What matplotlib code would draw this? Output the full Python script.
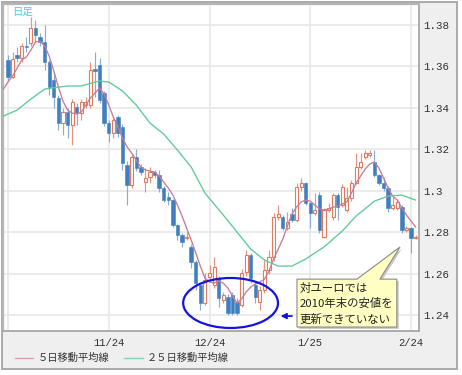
import matplotlib
matplotlib.use('Agg')
import matplotlib.pyplot as plt
import numpy as np
from matplotlib.patches import Rectangle, Polygon, Ellipse
from matplotlib.lines import Line2D

# ---------------- data (EUR/USD daily candles) ----------------
opens = [1.3629, 1.3547, 1.3653, 1.3639, 1.3696, 1.3711, 1.3783, 1.3740, 1.3716, 1.3619,
         1.3533, 1.3446, 1.3325, 1.3378, 1.3316, 1.3402, 1.3373, 1.3412, 1.3412, 1.3586,
         1.3605, 1.3470, 1.3325, 1.3277, 1.3354, 1.3306, 1.3123, 1.3027, 1.3161, 1.3113,
         1.3041, 1.3065, 1.3089, 1.3075, 1.3012, 1.2969, 1.2954, 1.2834, 1.2786, 1.2771,
         1.2728, 1.2655, 1.2545, 1.2458, 1.2583, 1.2545, 1.2578, 1.2472, 1.2487, 1.2496,
         1.2463, 1.2448, 1.2607, 1.2689, 1.2545, 1.2463, 1.2521, 1.2617, 1.2680, 1.2872,
         1.2872, 1.2819, 1.2887, 1.2858, 1.3017, 1.3036, 1.2940, 1.2892, 1.2978, 1.2776,
         1.2906, 1.2872, 1.2978, 1.2930, 1.2906, 1.2964, 1.3036, 1.3113, 1.3161, 1.3171,
         1.3137, 1.3075, 1.3036, 1.3012, 1.2916, 1.2916, 1.2920, 1.2810, 1.2819, 1.2771]
closes = [1.3547, 1.3634, 1.3639, 1.3696, 1.3692, 1.3783, 1.3749, 1.3716, 1.3619, 1.3499,
          1.3451, 1.3325, 1.3378, 1.3316, 1.3427, 1.3373, 1.3427, 1.3427, 1.3581, 1.3576,
          1.3436, 1.3325, 1.3277, 1.3340, 1.3277, 1.3133, 1.3027, 1.3161, 1.3108, 1.3089,
          1.3060, 1.3089, 1.3075, 1.3012, 1.2954, 1.2954, 1.2834, 1.2786, 1.2752, 1.2776,
          1.2655, 1.2554, 1.2458, 1.2569, 1.2602, 1.2631, 1.2482, 1.2496, 1.2410, 1.2410,
          1.2410, 1.2602, 1.2689, 1.2578, 1.2487, 1.2521, 1.2617, 1.2680, 1.2872, 1.2887,
          1.2819, 1.2848, 1.2858, 1.3017, 1.3036, 1.2940, 1.2892, 1.2906, 1.2810, 1.2906,
          1.2916, 1.2978, 1.2920, 1.3017, 1.2964, 1.3036, 1.3113, 1.3137, 1.3181, 1.3181,
          1.3075, 1.3036, 1.3012, 1.2916, 1.2930, 1.2945, 1.2810, 1.2819, 1.2771, 1.2776]
highs = [1.3653, 1.3667, 1.3692, 1.3711, 1.3740, 1.3836, 1.3822, 1.3760, 1.3798, 1.3630,
         1.3571, 1.3460, 1.3400, 1.3400, 1.3440, 1.3420, 1.3440, 1.3450, 1.3619, 1.3667,
         1.3639, 1.3480, 1.3340, 1.3350, 1.3365, 1.3320, 1.3140, 1.3175, 1.3200, 1.3130,
         1.3108, 1.3113, 1.3100, 1.3099, 1.3020, 1.2993, 1.2960, 1.2840, 1.2795, 1.2800,
         1.2740, 1.2665, 1.2560, 1.2602, 1.2641, 1.2680, 1.2590, 1.2510, 1.2500, 1.2510,
         1.2480, 1.2620, 1.2713, 1.2700, 1.2560, 1.2540, 1.2665, 1.2713, 1.2890, 1.2930,
         1.2880, 1.2896, 1.2916, 1.3036, 1.3060, 1.3040, 1.2945, 1.2988, 1.2993, 1.2916,
         1.2940, 1.2990, 1.2990, 1.3030, 1.3017, 1.3050, 1.3181, 1.3181, 1.3195, 1.3195,
         1.3195, 1.3080, 1.3065, 1.3020, 1.2969, 1.2955, 1.2930, 1.2830, 1.2825, 1.2785]
lows = [1.3533, 1.3542, 1.3619, 1.3619, 1.3667, 1.3696, 1.3716, 1.3696, 1.3581, 1.3460,
        1.3398, 1.3292, 1.3267, 1.3253, 1.3219, 1.3316, 1.3340, 1.3400, 1.3398, 1.3451,
        1.3420, 1.3310, 1.3234, 1.3253, 1.3260, 1.3099, 1.2930, 1.3012, 1.3095, 1.3075,
        1.2993, 1.3036, 1.3060, 1.2993, 1.2945, 1.2930, 1.2824, 1.2761, 1.2728, 1.2761,
        1.2627, 1.2521, 1.2424, 1.2448, 1.2570, 1.2530, 1.2439, 1.2460, 1.2400, 1.2400,
        1.2400, 1.2440, 1.2590, 1.2554, 1.2458, 1.2424, 1.2506, 1.2600, 1.2660, 1.2860,
        1.2810, 1.2810, 1.2848, 1.2848, 1.3000, 1.2930, 1.2819, 1.2880, 1.2795, 1.2771,
        1.2896, 1.2860, 1.2858, 1.2920, 1.2896, 1.2950, 1.3030, 1.3105, 1.3150, 1.3160,
        1.3065, 1.3025, 1.3000, 1.2896, 1.2906, 1.2906, 1.2795, 1.2800, 1.2699, 1.2765]

# 5-day moving average, from the day before the first candle (index -1) to the last
ma5 = [1.3489, 1.3523, 1.3552, 1.3590, 1.3629, 1.3643, 1.3677, 1.3716, 1.3720, 1.3696, 1.3648,
       1.3576, 1.3499, 1.3431, 1.3388, 1.3373, 1.3369, 1.3378, 1.3412, 1.3446, 1.3470,
       1.3494, 1.3465, 1.3412, 1.3354, 1.3306, 1.3253, 1.3210, 1.3181, 1.3147, 1.3113,
       1.3099, 1.3094, 1.3089, 1.3070, 1.3041, 1.3012, 1.2978, 1.2930, 1.2877, 1.2819,
       1.2761, 1.2699, 1.2636, 1.2578, 1.2559, 1.2554, 1.2564, 1.2554, 1.2530, 1.2492,
       1.2458, 1.2477, 1.2511, 1.2535, 1.2549, 1.2559, 1.2573, 1.2612, 1.2670, 1.2718,
       1.2766, 1.2829, 1.2887, 1.2920, 1.2945, 1.2954, 1.2949, 1.2930, 1.2911, 1.2906,
       1.2911, 1.2920, 1.2925, 1.2935, 1.2945, 1.2988, 1.3036, 1.3070, 1.3104, 1.3128,
       1.3137, 1.3108, 1.3060, 1.3012, 1.2973, 1.2954, 1.2916, 1.2882, 1.2853, 1.2824]
ma5_start = -1

# 25-day moving average, read at these candle indices
ma25_idx = [-1, 2, 5, 8, 13, 16, 20, 22, 25, 28, 31, 34, 37, 40, 43, 47, 50, 53, 56,
            59, 62, 65, 69, 73, 76, 80, 83, 86, 89]
ma25 = [1.3359, 1.3388, 1.3441, 1.3489, 1.3504, 1.3504, 1.3528, 1.3523, 1.3480, 1.3412,
        1.3325, 1.3272, 1.3195, 1.3113, 1.2988, 1.2882, 1.2800, 1.2718, 1.2665, 1.2636,
        1.2636, 1.2670, 1.2728, 1.2805, 1.2877, 1.2949, 1.2973, 1.2978, 1.2954]

x_tick_idx = [0, 22, 44, 66, 88]
x_tick_labels = ['', '11/24', '12/24', '1/25', '2/24']
y_ticks = [1.24, 1.26, 1.28, 1.30, 1.32, 1.34, 1.36, 1.38]
y_tick_labels = ['1.24', '1.26', '1.28', '1.3', '1.32', '1.34', '1.36', '1.38']

legend_labels = ['５日移動平均線', '２５日移動平均線']
title_text = '日足'
note_lines = ['対ユーロでは', '2010年末の安値を', '更新できていない']

# ---------------- figure ----------------
W, H, DPI = 462, 375, 100
CJK = ['Noto Sans CJK JP', 'DejaVu Sans']
fig = plt.figure(figsize=(W / DPI, H / DPI), dpi=DPI)
fig.patch.set_facecolor('white')


def fx(px):
    return px / W


def fy(py):
    return 1 - py / H


# outer gray panel (behind the axes)
fig.patches.append(Rectangle((fx(2), fy(369)), fx(457) - fx(2), fy(2) - fy(369),
                             transform=fig.transFigure, facecolor='#efefef',
                             edgecolor='#a9a9a9', lw=1.4, zorder=-5))

ax = fig.add_axes([fx(3), fy(331), fx(419) - fx(3), fy(4) - fy(331)])
ax.set_zorder(2)
ax.set_facecolor('white')
ax.set_xlim(-1.09, 89.74)
ax.set_ylim(1.2323, 1.3899)

for side, col, lw in [('left', '#b5b5b5', 1.6), ('top', '#b5b5b5', 1.6),
                      ('right', '#a0a0a0', 1.2), ('bottom', '#a0a0a0', 1.2)]:
    ax.spines[side].set_color(col)
    ax.spines[side].set_linewidth(lw)

ax.yaxis.tick_right()
ax.set_yticks(y_ticks)
ax.set_yticklabels(y_tick_labels, family='Liberation Mono', fontsize=7.8, color='#333333')
ax.set_xticks(x_tick_idx)
ax.set_xticklabels(x_tick_labels, family='Liberation Mono', fontsize=7.6, color='#333333')
ax.tick_params(axis='y', length=0, pad=3)
ax.tick_params(axis='x', length=0, pad=5)
ax.grid(True, color='#e8e8e8', lw=1.2)
ax.set_axisbelow(True)

# candles
o = np.array(opens)
c = np.array(closes)
h = np.array(highs)
l = np.array(lows)
idx = np.arange(len(o))
up = c >= o
wick_cols = np.where(up, '#e8927c', '#86aed6')
ax.vlines(idx, l, h, colors=wick_cols, lw=0.85, zorder=2)
body_bot = np.minimum(o, c)
body_h = np.maximum(np.abs(c - o), 0.0003)
ax.bar(idx[up], body_h[up], bottom=body_bot[up], width=0.68, facecolor='white',
       edgecolor='#e07b5f', lw=0.8, zorder=3)
ax.bar(idx[~up], body_h[~up], bottom=body_bot[~up], width=0.74, facecolor='#3f7fbf',
       edgecolor='#3f7fbf', lw=0.4, zorder=3)

# moving averages
ax.plot(np.arange(ma5_start, ma5_start + len(ma5)), ma5, color='#c97b95', lw=0.95, zorder=4)
ax.plot(ma25_idx, ma25, color='#5ccb98', lw=0.95, zorder=4)

# ellipse highlighting the lows
ax.add_patch(Ellipse((48.6, 1.2458), 20.7, 0.0241, fill=False, edgecolor='#1414e0',
                     lw=1.6, zorder=6))
ax.annotate('', xy=(58.9, 1.2395), xytext=(62.6, 1.2395),
            arrowprops=dict(arrowstyle='-|>', color='#1414e0', lw=1.3, mutation_scale=8),
            zorder=6)

# callout
callout = [(63.1, 1.2573), (76.2, 1.2573), (85.6, 1.2728), (81.2, 1.2573),
           (84.9, 1.2573), (84.9, 1.2342), (63.1, 1.2342)]
shadow = [(x + 0.4, y - 0.0009) for x, y in callout]
ax.add_patch(Polygon(shadow, closed=True, facecolor='#c8c8c8', edgecolor='none', zorder=6))
ax.add_patch(Polygon(callout, closed=True, facecolor='#ffffc4', edgecolor='#8a8a8a',
                     lw=0.8, zorder=7))
for yv, t in zip([1.2530, 1.2456, 1.2380], note_lines):
    ax.text(63.75, yv, t, family=CJK, fontsize=8.2, color='#222222', va='center',
            ha='left', zorder=8)

# top-left label
fig.text(fx(12), fy(12), title_text, family=CJK, fontsize=7.5, color='#5bbfe8',
         va='center', zorder=10)

# legend
ly = fy(358)
fig.add_artist(Line2D([fx(15), fx(33)], [ly, ly], transform=fig.transFigure,
                      color='#d8a2b0', lw=1.0))
fig.text(fx(38), ly, legend_labels[0], family=CJK, fontsize=7.4, color='#333333', va='center')
fig.add_artist(Line2D([fx(124), fx(143)], [ly, ly], transform=fig.transFigure,
                      color='#7fd6b0', lw=1.0))
fig.text(fx(147), ly, legend_labels[1], family=CJK, fontsize=7.4, color='#333333', va='center')

fig.savefig('out.png', dpi=DPI, facecolor=fig.get_facecolor())
